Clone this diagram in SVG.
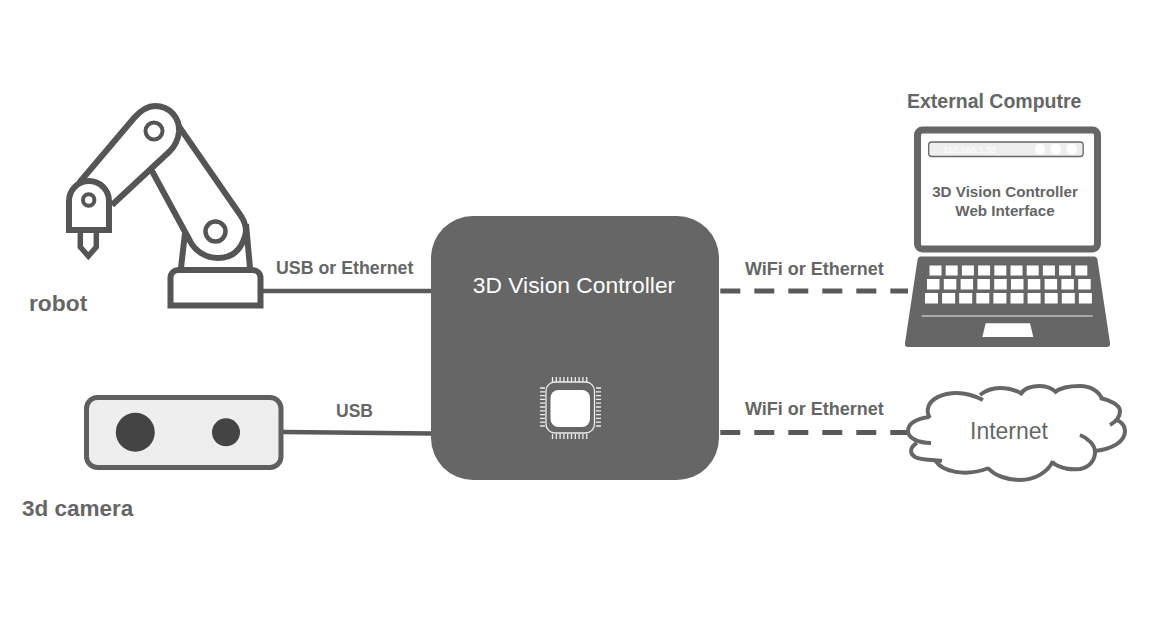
<svg xmlns="http://www.w3.org/2000/svg" width="1163" height="633" viewBox="0 0 1163 633">
<style>
text{font-family:"Liberation Sans",Arial,sans-serif;fill:#666}
.b{font-weight:700}
.ln{fill:none;stroke:#5a5a5a;stroke-width:5}
.arm{fill:#fff;stroke:#555;stroke-width:6;stroke-linejoin:miter;stroke-linecap:butt}
.c{fill:none;stroke:#666;stroke-width:4;stroke-linecap:butt}
.k{fill:#fff}
</style>
<rect width="1163" height="633" fill="#fff"/>
<g id="connectors">
<path class="ln" style="stroke-width:4.500" d="M263 291H431M283 432L431 433.500"/>
<path class="ln" style="stroke-dasharray:20 14" d="M720.300 291H908M720.300 432.500H908"/>
</g>
<g id="robot">
<path class="arm" d="M185 233L181 268M246 224L250 268"/>
<path class="arm" d="M178 125L241 216C245 222 247 230 245 236C241 250 232 258 218 258C206 258 195 251 190 241L152 171"/>
<path class="arm" d="M79 183L134 118C141 110 147 106 155 106C170 106 180 118 179 132C178 140 175 146 170 151L112 205"/>
<path class="arm" d="M69 230V201C69 190 78 181 89 181C100 181 109 190 109 201V230Z"/>
<path class="arm" style="stroke-width:5.500" d="M80.300 233V247L88.300 256L96.300 247V233"/>
<circle class="arm" style="stroke-width:4" cx="154" cy="131" r="8.500"/>
<circle class="arm" style="stroke-width:4" cx="88.700" cy="200" r="5.700"/>
<circle class="arm" style="stroke-width:4.500" cx="215.500" cy="231.500" r="10"/>
<path class="arm" d="M170.500 305.500V278C170.500 273 174 270 179 270H252C257 270 260.500 273 260.500 278V305.500Z"/>
<text class="b" x="29" y="311" font-size="22.800">robot</text>
</g>
<g id="camera">
<rect x="86.500" y="397.500" width="194.500" height="70" rx="11" fill="#eee" stroke="#5f5f5f" stroke-width="5"/>
<circle cx="135.300" cy="432.300" r="19.500" fill="#444"/>
<circle cx="226" cy="432.300" r="14" fill="#444"/>
<text class="b" x="22" y="516" font-size="22.500">3d camera</text>
</g>
<g id="controller">
<rect x="431" y="216" width="288" height="264" rx="42" fill="#666"/>
<text x="574" y="293" font-size="22.800" text-anchor="middle" style="fill:#fff">3D Vision Controller</text>
<g fill="none" stroke="#eee" stroke-width="1.300">
<rect x="546" y="382" width="48.500" height="51" rx="9"/>
<path d="M552.500 377V382M556.300 377V382M560.100 377V382M563.900 377V382M567.700 377V382M571.500 377V382M575.300 377V382M579.100 377V382M582.900 377V382M586.700 377V382"/>
<path d="M552.500 434V439M556.300 434V439M560.100 434V439M563.900 434V439M567.700 434V439M571.500 434V439M575.300 434V439M579.100 434V439M582.900 434V439M586.700 434V439"/>
<path d="M540 388H545M540 391.800H545M540 395.600H545M540 399.400H545M540 403.200H545M540 407H545M540 410.800H545M540 414.600H545M540 418.400H545M540 422.200H545M540 426H545"/>
<path d="M596 388H601M596 391.800H601M596 395.600H601M596 399.400H601M596 403.200H601M596 407H601M596 410.800H601M596 414.600H601M596 418.400H601M596 422.200H601M596 426H601"/>
</g>
<rect x="550.500" y="390" width="39.500" height="37" rx="8" fill="#fff"/>
</g>
<g id="laptop">
<text class="b" x="907" y="108" font-size="19.500">External Computre</text>
<rect x="917.500" y="130" width="180" height="119" rx="5" fill="#fff" stroke="#666" stroke-width="7"/>
<rect x="928.700" y="142" width="154.500" height="14.500" rx="3" fill="#eee" stroke="#666" stroke-width="1.300"/>
<text x="943" y="153" font-size="9.100" style="fill:#fff">192.168.1.33</text>
<circle class="k" cx="1040" cy="149" r="5.500"/>
<circle class="k" cx="1055.700" cy="149" r="5.500"/>
<circle class="k" cx="1071.700" cy="149" r="5.500"/>
<text class="b" x="1005" y="197" font-size="15.200" text-anchor="middle">3D Vision Controller</text>
<text class="b" x="1005" y="216" font-size="15.200" text-anchor="middle">Web Interface</text>
<path d="M921 256.500H1094Q1097 256.500 1097.500 260L1110 343Q1110.500 347 1107 347H908Q904.500 347 905 343L917.500 260Q918 256.500 921 256.500Z" fill="#666"/>
<g class="k">
<rect x="929.500" y="265.500" width="12" height="10"/><rect x="945.700" y="265.500" width="12" height="10"/><rect x="961.900" y="265.500" width="12" height="10"/><rect x="978.100" y="265.500" width="12" height="10"/><rect x="994.300" y="265.500" width="12" height="10"/><rect x="1010.500" y="265.500" width="12" height="10"/><rect x="1026.700" y="265.500" width="12" height="10"/><rect x="1042.900" y="265.500" width="12" height="10"/><rect x="1059.100" y="265.500" width="12" height="10"/><rect x="1075.300" y="265.500" width="12" height="10"/>
<rect x="927" y="279" width="12.500" height="10.500"/><rect x="943.800" y="279" width="12.500" height="10.500"/><rect x="960.600" y="279" width="12.500" height="10.500"/><rect x="977.400" y="279" width="12.500" height="10.500"/><rect x="994.200" y="279" width="12.500" height="10.500"/><rect x="1011" y="279" width="12.500" height="10.500"/><rect x="1027.800" y="279" width="12.500" height="10.500"/><rect x="1044.600" y="279" width="12.500" height="10.500"/><rect x="1061.400" y="279" width="12.500" height="10.500"/><rect x="1078.200" y="279" width="12.500" height="10.500"/>
<rect x="925" y="293" width="13" height="10.500"/><rect x="942.100" y="293" width="13" height="10.500"/><rect x="959.200" y="293" width="13" height="10.500"/><rect x="976.300" y="293" width="13" height="10.500"/><rect x="993.400" y="293" width="13" height="10.500"/><rect x="1010.500" y="293" width="13" height="10.500"/><rect x="1027.600" y="293" width="13" height="10.500"/><rect x="1044.700" y="293" width="13" height="10.500"/><rect x="1061.800" y="293" width="13" height="10.500"/><rect x="1078.900" y="293" width="13" height="10.500"/>
</g>
<path d="M921.700 316H1092.700" stroke="#eee" stroke-width="1.200"/>
<path class="k" d="M985.700 323.300H1030L1033.300 337H982.300Z"/>
</g>
<g id="internet">
<path class="c" d="M929 417C916 419 908 424 908 431C908 438 918 443 931 443"/>
<path class="c" d="M917 443C910 447 909 453 915 457C923 461 933 459 942 461"/>
<path class="c" d="M935 460C942 472 965 477 989 468"/>
<path class="c" d="M988 468C995 476 1008 480 1020 480C1035 480 1048 472 1053 461"/>
<path class="c" d="M1052 462C1060 469 1072 470 1080 469C1090 467 1095 460 1095 452C1095 445 1088 438 1080 435"/>
<path class="c" d="M1095 451C1112 449 1125 442 1125 431C1125 426 1121 422 1117 420"/>
<path class="c" d="M1110 425C1117 421 1120 416 1120 411C1120 405 1110 400 1100 398"/>
<path class="c" d="M1102 399C1099 391 1090 386 1080 386C1070 386 1060 388 1055 392"/>
<path class="c" d="M1057 393C1052 388 1047 386 1040 386C1031 386 1023 389 1020 395"/>
<path class="c" d="M1021 393C1013 389 1007 388 1000 388C992 388 985 391 980 395"/>
<path class="c" d="M983 400C975 396 966 393 957 393C942 393 930 399 928 408C927 412 928 415 930 418"/>
<text x="1009" y="439" font-size="23" text-anchor="middle">Internet</text>
</g>
<g id="labels">
<text class="b" x="276" y="274" font-size="17.800">USB or Ethernet</text>
<text class="b" x="336" y="417" font-size="17.500">USB</text>
<text class="b" x="745" y="275" font-size="18">WiFi or Ethernet</text>
<text class="b" x="745" y="415" font-size="18">WiFi or Ethernet</text>
</g>
</svg>
